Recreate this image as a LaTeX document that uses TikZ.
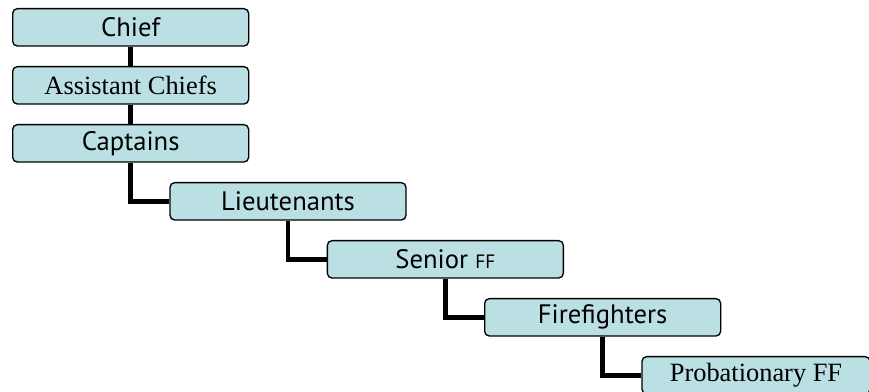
\documentclass[tikz,border=0pt]{standalone}
\usepackage{fontspec}
\setmainfont{Liberation Serif}
\newfontfamily\ranksans{PT Sans}
\usetikzlibrary{positioning}
\definecolor{rankfill}{RGB}{187,224,227}
\tikzstyle{rank} = [rectangle, rounded corners=3.5pt, minimum width=177pt, minimum height=28pt, text centered, inner sep=0pt, draw=black, line width=1pt, fill=rankfill, font=\fontsize{20}{22}\selectfont\ranksans]
\tikzstyle{serifrank} = [rank, font=\fontsize{19.8}{22}\selectfont\rmfamily]
\tikzstyle{link} = [line width=3.5pt]

\begin{document}
\begin{tikzpicture}[node distance=14.5pt]
\useasboundingbox (0,0) rectangle (651.75pt,-294pt);

% Nodes
\node (chief) [rank, anchor=north west] at (9pt,-6pt) {Chief};
\node (asst) [serifrank, below=of chief] {Assistant Chiefs};
\node (capt) [rank, below=of asst] {Captains};
\node (lieut) [rank, below right=14.5pt and -60pt of capt] {Lieutenants};
\node (senior) [rank, below right=14.5pt and -60pt of lieut] {Senior {\fontsize{14.5}{16}\selectfont FF}};
\node (ff) [rank, below right=14.5pt and -60pt of senior] {Firefighters};
\node (prob) [serifrank, minimum width=171pt, below right=14.5pt and -60pt of ff] {Probationary FF};

% Connectors
\draw [link] (chief) -- (asst);
\draw [link] (asst) -- (capt);
\draw [link] (capt.south) |- (lieut.west);
\draw [link] (lieut.south) |- (senior.west);
\draw [link] (senior.south) |- (ff.west);
\draw [link] (ff.south) |- (prob.west);

\end{tikzpicture}
\end{document}
